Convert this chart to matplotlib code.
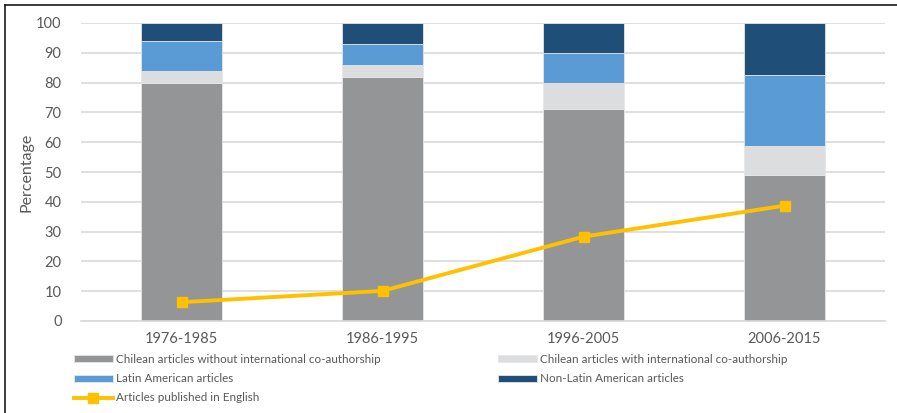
import matplotlib
matplotlib.use("Agg")
import matplotlib.pyplot as plt
from matplotlib.lines import Line2D
import numpy as np

plt.rcParams['font.family'] = ['Lato', 'DejaVu Sans']

periods = ["1976-1985", "1986-1995", "1996-2005", "2006-2015"]
chilean_no_intl = [80, 82, 71, 49]
chilean_intl = [4, 4, 9, 9.7]
latin_american = [10, 7, 10, 23.7]
non_latin_american = [6, 7, 10, 17.6]
english_share = [6.3, 10.1, 28.3, 38.7]
y_ticks = [0, 10, 20, 30, 40, 50, 60, 70, 80, 90, 100]

series_names = [
    "Chilean articles without international co-authorship",
    "Chilean articles with international co-authorship",
    "Latin American articles",
    "Non-Latin American articles",
]
series_colors = ["#949597", "#DCDDDE", "#5B9BD5", "#1F4E79"]
line_color = "#FFC000"
text_color = "#595959"

fig = plt.figure(figsize=(8.97, 4.13), dpi=100)
ax = fig.add_axes([81 / 897, 1 - 321 / 413, (885 - 81) / 897, (321 - 23) / 413])

x = np.arange(len(periods))
bottom = np.zeros(len(periods))
bar_handles = []
for vals, color, name in zip([chilean_no_intl, chilean_intl, latin_american, non_latin_american],
                             series_colors, series_names):
    b = ax.bar(x, vals, width=0.4, bottom=bottom, color=color,
               edgecolor="#E6E6E6", linewidth=0.6, label=name, zorder=2)
    bar_handles.append(b)
    bottom += np.array(vals)

line, = ax.plot(x, english_share, color=line_color, linewidth=2.8, marker="s",
                markersize=7, label="Articles published in English", zorder=3)

ax.set_xlim(-0.5, len(periods) - 0.5)
ax.set_ylim(0, 100)
ax.set_yticks(y_ticks)
ax.set_xticks(x)
ax.set_xticklabels(periods)
ax.yaxis.grid(True, color="#D9D9D9", linewidth=1.2, zorder=0)
ax.set_axisbelow(True)
for s in ["top", "right", "left"]:
    ax.spines[s].set_visible(False)
ax.spines["bottom"].set_color("#D9D9D9")
ax.spines["bottom"].set_linewidth(1.2)
ax.tick_params(axis="both", length=0, colors=text_color, labelsize=10.5)
ax.tick_params(axis="x", pad=8)
ax.tick_params(axis="y", pad=14)
ax.set_ylabel("Percentage", color=text_color, fontsize=11.5, labelpad=2)

# legend: two column blocks below the plot
legend_kw = dict(loc="upper left", frameon=False, fontsize=8.4, handlelength=3.3,
                 handleheight=0.55, handletextpad=0.3, labelspacing=0.7,
                 borderpad=0, borderaxespad=0)
leg1 = fig.legend([bar_handles[0], bar_handles[2], line],
                  [series_names[0], series_names[2], "Articles published in English"],
                  bbox_to_anchor=(74 / 897, 1 - 354 / 413), **legend_kw)
leg2 = fig.legend([bar_handles[1], bar_handles[3]],
                  [series_names[1], series_names[3]],
                  bbox_to_anchor=(498 / 897, 1 - 354 / 413), **legend_kw)
for leg in (leg1, leg2):
    for t in leg.get_texts():
        t.set_color(text_color)

# outer chart frame
fig.add_artist(Line2D([5 / 897, 5 / 897], [0, 1 - 5 / 413], transform=fig.transFigure,
                      color="#1a1a1a", linewidth=1.2))
fig.add_artist(Line2D([5 / 897, 1], [1 - 5 / 413, 1 - 5 / 413], transform=fig.transFigure,
                      color="#1a1a1a", linewidth=1.2))

fig.savefig("out.png", dpi=100)
